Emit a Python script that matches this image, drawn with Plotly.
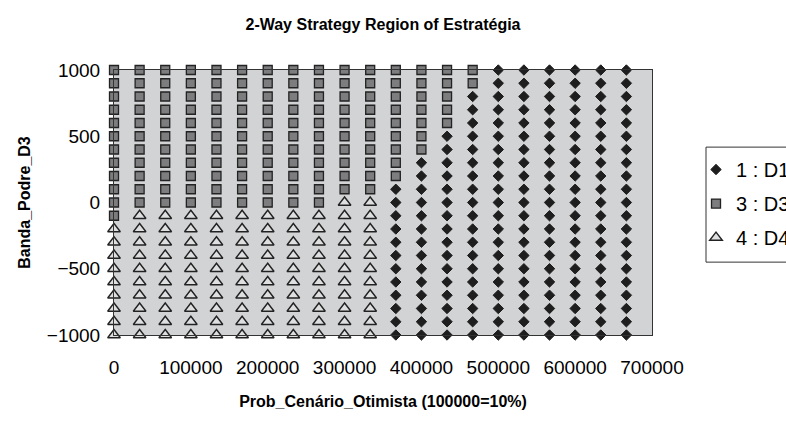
import plotly.graph_objects as go

# Optimistic-scenario probability (columns of the grid)
prob_otimista = [0, 33333, 66667, 100000, 133333, 166667, 200000, 233333,
                 266667, 300000, 333333, 366667, 400000, 433333, 466667,
                 500000, 533333, 566667, 600000, 633333, 666667]

# Banda_Podre_D3 values (rows of the grid, top to bottom)
banda_podre = [1000, 900, 800, 700, 600, 500, 400, 300, 200, 100, 0,
               -100, -200, -300, -400, -500, -600, -700, -800, -900, -1000]

# Best strategy at each grid point, one string per row, one char per column
best_strategy = [
    "333333333333333111111",  # 1000
    "333333333333333111111",  # 900
    "333333333333331111111",  # 800
    "333333333333331111111",  # 700
    "333333333333331111111",  # 600
    "333333333333311111111",  # 500
    "333333333333311111111",  # 400
    "333333333333111111111",  # 300
    "333333333333111111111",  # 200
    "333333333331111111111",  # 100
    "333333333441111111111",  # 0
    "344444444441111111111",  # -100
    "444444444441111111111",  # -200
    "444444444441111111111",  # -300
    "444444444441111111111",  # -400
    "444444444441111111111",  # -500
    "444444444441111111111",  # -600
    "444444444441111111111",  # -700
    "444444444441111111111",  # -800
    "444444444441111111111",  # -900
    "444444444441111111111",  # -1000
]

strategy_codes = ["1", "3", "4"]
strategy_labels = ["1 : D1", "3 : D3", "4 : D4"]

marker_styles = {
    "1": dict(symbol="diamond", size=8, color="#1e1e1e",
              line=dict(color="#1e1e1e", width=1)),
    "3": dict(symbol="square", size=9, color="#7d7d7f",
              line=dict(color="#222222", width=1.3)),
    "4": dict(symbol="triangle-up", size=11, color="#dedfe0",
              line=dict(color="#222222", width=1.4)),
}

fig = go.Figure()
for code, label in zip(strategy_codes, strategy_labels):
    xs, ys = [], []
    for row_val, row in zip(banda_podre, best_strategy):
        for col_val, s in zip(prob_otimista, row):
            if s == code:
                xs.append(col_val)
                ys.append(row_val)
    fig.add_trace(go.Scatter(
        x=xs, y=ys, mode="markers", name=label, legendgroup=code,
        marker=marker_styles[code], cliponaxis=False, hoverinfo="x+y+name",
    ))

font_family = "Liberation Sans, Arial, sans-serif"

# Framed box behind the legend entries
fig.add_shape(type="rect", xref="paper", yref="paper",
              x0=1.1004, x1=1.35, y0=0.275, y1=0.709,
              fillcolor="white", line=dict(color="#333333", width=1),
              layer="above")

fig.update_layout(
    width=786, height=421,
    paper_bgcolor="white",
    plot_bgcolor="#d2d3d5",
    margin=dict(l=114, r=134, t=70, b=86, autoexpand=False),
    font=dict(family=font_family, size=19, color="#000000"),
    title=dict(text="<b>2-Way Strategy Region of Estratégia</b>",
               x=0.5, xref="paper", xanchor="center",
               y=0.955, yref="container",
               font=dict(size=16, family=font_family)),
    showlegend=True,
    legend=dict(x=1.0818, y=0.698, xanchor="left", yanchor="top",
                bgcolor="rgba(0,0,0,0)", borderwidth=0,
                font=dict(size=20, family=font_family),
                tracegroupgap=5, itemwidth=30),
)

fig.update_xaxes(
    range=[0, 700000], dtick=100000, tick0=0,
    showgrid=False, zeroline=False,
    showline=True, linecolor="#333333", linewidth=1, mirror=True,
    ticks="", ticklabelstandoff=15, tickformat="d",
    tickfont=dict(size=19),
    title=dict(text="<b>Prob_Cenário_Otimista (100000=10%)</b>",
               font=dict(size=16), standoff=19),
)
fig.update_yaxes(
    range=[-1000, 1000], dtick=500, tick0=-1000,
    showgrid=False, zeroline=False,
    showline=True, linecolor="#333333", linewidth=1, mirror=True,
    ticks="", ticklabelstandoff=9,
    tickfont=dict(size=19),
    title=dict(text="<b>Banda_Podre_D3</b>", font=dict(size=16), standoff=12),
)

fig.write_html("out.html")
